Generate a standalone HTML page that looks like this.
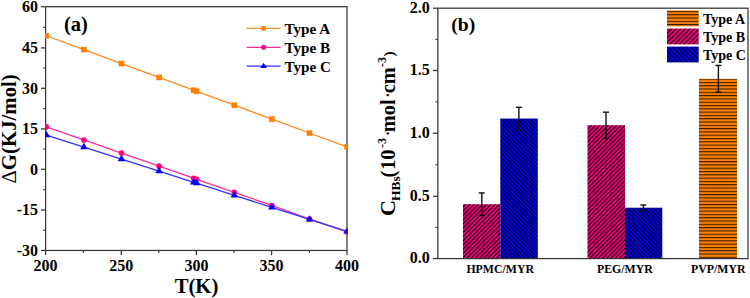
<!DOCTYPE html>
<html><head><meta charset="utf-8"><style>
html,body{margin:0;padding:0;background:#fff;}
body{width:750px;height:298px;overflow:hidden;font-family:"Liberation Serif",serif;}
svg{display:block;}
</style></head><body>
<svg width="750" height="298" viewBox="0 0 750 298">
<defs>
<pattern id="pk" patternUnits="userSpaceOnUse" x="0" y="0" width="4.24" height="4.24"><rect width="4.24" height="4.24" fill="#ff0080"/><path d="M-4.24,4.24 L4.24,-4.24 M0,8.48 L8.48,0 M-4.24,8.48 L8.48,-4.24" stroke="#000" stroke-width="1.1" fill="none"/></pattern>
<pattern id="bl" patternUnits="userSpaceOnUse" x="0" y="0" width="4.24" height="4.24"><rect width="4.24" height="4.24" fill="#0000ff"/><path d="M-4.24,0 L4.24,8.48 M0,-4.24 L8.48,4.24 M-4.24,-4.24 L8.48,8.48" stroke="#000" stroke-width="1.15" fill="none"/></pattern>
<pattern id="pkl" patternUnits="userSpaceOnUse" x="667.5" y="28.3" width="4.6" height="4.6"><rect width="4.6" height="4.6" fill="#ff0080"/><path d="M-4.6,4.6 L4.6,-4.6 M0,9.2 L9.2,0 M-4.6,9.2 L9.2,-4.6" stroke="#000" stroke-width="1.15" fill="none"/></pattern>
<pattern id="bll" patternUnits="userSpaceOnUse" x="667.5" y="46.6" width="4.6" height="4.6"><rect width="4.6" height="4.6" fill="#0000ff"/><path d="M-4.6,0 L4.6,9.2 M0,-4.6 L9.2,4.6 M-4.6,-4.6 L9.2,9.2" stroke="#000" stroke-width="1.15" fill="none"/></pattern>
<pattern id="or" patternUnits="userSpaceOnUse" x="0" y="78.6" width="10" height="3.3"><rect width="10" height="3.3" fill="#ff8000"/><rect y="0" width="10" height="1.1" fill="#3a1d00"/></pattern>
<pattern id="orl" patternUnits="userSpaceOnUse" x="0" y="10.9" width="10" height="3.3"><rect width="10" height="3.3" fill="#ff8000"/><rect y="0" width="10" height="1.1" fill="#3a1d00"/></pattern>
</defs>
<rect width="750" height="298" fill="#fff"/>
<rect x="45.60" y="6.70" width="301.40" height="243.75" fill="none" stroke="#353535" stroke-width="1.25"/>
<clipPath id="clipa"><rect x="45.00" y="0" width="302.60" height="298"/></clipPath><g clip-path="url(#clipa)">
<polyline points="46.30,35.76 83.90,49.65 121.50,63.55 159.10,77.44 193.69,90.22 196.70,91.33 234.30,105.22 271.90,119.11 309.50,133.01 347.10,146.90" fill="none" stroke="#ff8a1c" stroke-width="1.3"/>
<polyline points="46.30,126.87 83.90,139.97 121.50,153.07 159.10,166.17 193.69,178.22 196.70,179.27 234.30,192.37 271.90,205.47 309.50,219.14 347.10,231.99" fill="none" stroke="#ff2b93" stroke-width="1.3"/>
<polyline points="46.30,135.01 83.90,147.07 121.50,159.12 159.10,171.18 193.69,182.27 196.70,183.23 234.30,195.29 271.90,207.34 309.50,219.40 347.10,231.45" fill="none" stroke="#3030ff" stroke-width="1.3"/>
<rect x="43.50" y="32.96" width="5.6" height="5.6" fill="#ff8000"/>
<rect x="81.10" y="46.85" width="5.6" height="5.6" fill="#ff8000"/>
<rect x="118.70" y="60.75" width="5.6" height="5.6" fill="#ff8000"/>
<rect x="156.30" y="74.64" width="5.6" height="5.6" fill="#ff8000"/>
<rect x="190.89" y="87.42" width="5.6" height="5.6" fill="#ff8000"/>
<rect x="193.90" y="88.53" width="5.6" height="5.6" fill="#ff8000"/>
<rect x="231.50" y="102.42" width="5.6" height="5.6" fill="#ff8000"/>
<rect x="269.10" y="116.31" width="5.6" height="5.6" fill="#ff8000"/>
<rect x="306.70" y="130.21" width="5.6" height="5.6" fill="#ff8000"/>
<rect x="344.30" y="144.10" width="5.6" height="5.6" fill="#ff8000"/>
<circle cx="46.30" cy="126.87" r="2.8" fill="#ff0080"/>
<circle cx="83.90" cy="139.97" r="2.8" fill="#ff0080"/>
<circle cx="121.50" cy="153.07" r="2.8" fill="#ff0080"/>
<circle cx="159.10" cy="166.17" r="2.8" fill="#ff0080"/>
<circle cx="193.69" cy="178.22" r="2.8" fill="#ff0080"/>
<circle cx="196.70" cy="179.27" r="2.8" fill="#ff0080"/>
<circle cx="234.30" cy="192.37" r="2.8" fill="#ff0080"/>
<circle cx="271.90" cy="205.47" r="2.8" fill="#ff0080"/>
<circle cx="309.50" cy="219.14" r="2.8" fill="#ff0080"/>
<circle cx="347.10" cy="231.99" r="2.8" fill="#ff0080"/>
<polygon points="46.30,130.75 50.10,137.15 42.50,137.15" fill="#0000ff"/>
<polygon points="83.90,142.80 87.70,149.20 80.10,149.20" fill="#0000ff"/>
<polygon points="121.50,154.86 125.30,161.26 117.70,161.26" fill="#0000ff"/>
<polygon points="159.10,166.91 162.90,173.31 155.30,173.31" fill="#0000ff"/>
<polygon points="193.69,178.00 197.49,184.40 189.89,184.40" fill="#0000ff"/>
<polygon points="196.70,178.97 200.50,185.37 192.90,185.37" fill="#0000ff"/>
<polygon points="234.30,191.02 238.10,197.42 230.50,197.42" fill="#0000ff"/>
<polygon points="271.90,203.08 275.70,209.48 268.10,209.48" fill="#0000ff"/>
<polygon points="309.50,215.13 313.30,221.53 305.70,221.53" fill="#0000ff"/>
<polygon points="347.10,227.19 350.90,233.59 343.30,233.59" fill="#0000ff"/>
</g>
<line x1="41.00" y1="6.70" x2="45.60" y2="6.70" stroke="#353535" stroke-width="1.25"/>
<text x="38.00" y="12.00" text-anchor="end" font-family="Liberation Serif" font-weight="bold" font-size="16">60</text>
<line x1="41.00" y1="47.90" x2="45.60" y2="47.90" stroke="#353535" stroke-width="1.25"/>
<text x="38.00" y="53.20" text-anchor="end" font-family="Liberation Serif" font-weight="bold" font-size="16">45</text>
<line x1="41.00" y1="88.30" x2="45.60" y2="88.30" stroke="#353535" stroke-width="1.25"/>
<text x="38.00" y="93.60" text-anchor="end" font-family="Liberation Serif" font-weight="bold" font-size="16">30</text>
<line x1="41.00" y1="128.90" x2="45.60" y2="128.90" stroke="#353535" stroke-width="1.25"/>
<text x="38.00" y="134.20" text-anchor="end" font-family="Liberation Serif" font-weight="bold" font-size="16">15</text>
<line x1="41.00" y1="169.30" x2="45.60" y2="169.30" stroke="#353535" stroke-width="1.25"/>
<text x="38.00" y="174.60" text-anchor="end" font-family="Liberation Serif" font-weight="bold" font-size="16">0</text>
<line x1="41.00" y1="210.10" x2="45.60" y2="210.10" stroke="#353535" stroke-width="1.25"/>
<text x="38.00" y="215.40" text-anchor="end" font-family="Liberation Serif" font-weight="bold" font-size="16">-15</text>
<line x1="41.00" y1="250.45" x2="45.60" y2="250.45" stroke="#353535" stroke-width="1.25"/>
<text x="38.00" y="255.75" text-anchor="end" font-family="Liberation Serif" font-weight="bold" font-size="16">-30</text>
<line x1="43.20" y1="230.27" x2="45.60" y2="230.27" stroke="#353535" stroke-width="1.1"/>
<line x1="43.20" y1="189.70" x2="45.60" y2="189.70" stroke="#353535" stroke-width="1.1"/>
<line x1="43.20" y1="149.10" x2="45.60" y2="149.10" stroke="#353535" stroke-width="1.1"/>
<line x1="43.20" y1="108.60" x2="45.60" y2="108.60" stroke="#353535" stroke-width="1.1"/>
<line x1="43.20" y1="68.10" x2="45.60" y2="68.10" stroke="#353535" stroke-width="1.1"/>
<line x1="43.20" y1="27.30" x2="45.60" y2="27.30" stroke="#353535" stroke-width="1.1"/>
<line x1="45.60" y1="250.45" x2="45.60" y2="255.05" stroke="#353535" stroke-width="1.25"/>
<text x="45.60" y="271.25" text-anchor="middle" font-family="Liberation Serif" font-weight="bold" font-size="16">200</text>
<line x1="121.30" y1="250.45" x2="121.30" y2="255.05" stroke="#353535" stroke-width="1.25"/>
<text x="121.30" y="271.25" text-anchor="middle" font-family="Liberation Serif" font-weight="bold" font-size="16">250</text>
<line x1="196.40" y1="250.45" x2="196.40" y2="255.05" stroke="#353535" stroke-width="1.25"/>
<text x="196.40" y="271.25" text-anchor="middle" font-family="Liberation Serif" font-weight="bold" font-size="16">300</text>
<line x1="271.60" y1="250.45" x2="271.60" y2="255.05" stroke="#353535" stroke-width="1.25"/>
<text x="271.60" y="271.25" text-anchor="middle" font-family="Liberation Serif" font-weight="bold" font-size="16">350</text>
<line x1="347.00" y1="250.45" x2="347.00" y2="255.05" stroke="#353535" stroke-width="1.25"/>
<text x="347.00" y="271.25" text-anchor="middle" font-family="Liberation Serif" font-weight="bold" font-size="16">400</text>
<line x1="83.30" y1="250.45" x2="83.30" y2="252.95" stroke="#353535" stroke-width="1.1"/>
<line x1="158.80" y1="250.45" x2="158.80" y2="252.95" stroke="#353535" stroke-width="1.1"/>
<line x1="234.00" y1="250.45" x2="234.00" y2="252.95" stroke="#353535" stroke-width="1.1"/>
<line x1="309.40" y1="250.45" x2="309.40" y2="252.95" stroke="#353535" stroke-width="1.1"/>
<text x="196.5" y="292.9" text-anchor="middle" font-family="Liberation Serif" font-weight="bold" font-size="20.7">T(K)</text>
<text transform="translate(16,128.9) rotate(-90)" text-anchor="middle" font-family="Liberation Serif" font-weight="bold" font-size="20.8"><tspan font-weight="normal">&#916;</tspan>G(KJ/mol)</text>
<text x="64" y="31.2" font-family="Liberation Serif" font-weight="bold" font-size="20.5">(a)</text>
<line x1="246.6" y1="28.40" x2="280.6" y2="28.40" stroke="#ff8a1c" stroke-width="1.2"/>
<rect x="261.3" y="26.10" width="4.6" height="4.6" fill="#ff8000"/>
<text x="284.4" y="34.40" font-family="Liberation Serif" font-weight="bold" font-size="15.2">Type A</text>
<line x1="246.6" y1="47.30" x2="280.6" y2="47.30" stroke="#ff2b93" stroke-width="1.2"/>
<circle cx="263.6" cy="47.30" r="2.5" fill="#ff0080"/>
<text x="284.4" y="53.30" font-family="Liberation Serif" font-weight="bold" font-size="15.2">Type B</text>
<line x1="246.6" y1="66.20" x2="280.6" y2="66.20" stroke="#3030ff" stroke-width="1.2"/>
<polygon points="263.6,62.67 266.90000000000003,67.97 260.3,67.97" fill="#0000ff"/>
<text x="284.4" y="72.20" font-family="Liberation Serif" font-weight="bold" font-size="15.2">Type C</text>
<rect x="463.0" y="204.22" width="37.30" height="54.48" fill="url(#pk)"/>
<rect x="500.3" y="118.55" width="37.50" height="140.15" fill="url(#bl)"/>
<rect x="587.5" y="125.18" width="37.50" height="133.52" fill="url(#pk)"/>
<rect x="625.0" y="207.72" width="37.30" height="50.98" fill="url(#bl)"/>
<rect x="699.0" y="78.84" width="38.00" height="179.86" fill="url(#or)"/>
<line x1="481.8" y1="192.94" x2="481.8" y2="215.49" stroke="#111" stroke-width="1.4"/><line x1="478.8" y1="192.94" x2="484.8" y2="192.94" stroke="#111" stroke-width="1.4"/><line x1="478.8" y1="215.49" x2="484.8" y2="215.49" stroke="#111" stroke-width="1.4"/>
<line x1="518.9" y1="107.27" x2="518.9" y2="129.82" stroke="#111" stroke-width="1.4"/><line x1="515.9" y1="107.27" x2="521.9" y2="107.27" stroke="#111" stroke-width="1.4"/><line x1="515.9" y1="129.82" x2="521.9" y2="129.82" stroke="#111" stroke-width="1.4"/>
<line x1="606.0" y1="112.16" x2="606.0" y2="138.21" stroke="#111" stroke-width="1.4"/><line x1="603.0" y1="112.16" x2="609.0" y2="112.16" stroke="#111" stroke-width="1.4"/><line x1="603.0" y1="138.21" x2="609.0" y2="138.21" stroke="#111" stroke-width="1.4"/>
<line x1="643.4" y1="204.97" x2="643.4" y2="210.48" stroke="#111" stroke-width="1.4"/><line x1="640.4" y1="204.97" x2="646.4" y2="204.97" stroke="#111" stroke-width="1.4"/><line x1="640.4" y1="210.48" x2="646.4" y2="210.48" stroke="#111" stroke-width="1.4"/>
<line x1="718.4" y1="65.44" x2="718.4" y2="92.24" stroke="#111" stroke-width="1.4"/><line x1="715.4" y1="65.44" x2="721.4" y2="65.44" stroke="#111" stroke-width="1.4"/><line x1="715.4" y1="92.24" x2="721.4" y2="92.24" stroke="#111" stroke-width="1.4"/>
<rect x="437.85" y="8.20" width="310.15" height="250.40" fill="none" stroke="#353535" stroke-width="1.25"/>
<line x1="432.95" y1="258.60" x2="437.85" y2="258.60" stroke="#353535" stroke-width="1.25"/>
<text x="429.85" y="263.00" text-anchor="end" font-family="Liberation Serif" font-weight="bold" font-size="16">0.0</text>
<line x1="432.95" y1="196.30" x2="437.85" y2="196.30" stroke="#353535" stroke-width="1.25"/>
<text x="429.85" y="200.70" text-anchor="end" font-family="Liberation Serif" font-weight="bold" font-size="16">0.5</text>
<line x1="432.95" y1="133.20" x2="437.85" y2="133.20" stroke="#353535" stroke-width="1.25"/>
<text x="429.85" y="137.60" text-anchor="end" font-family="Liberation Serif" font-weight="bold" font-size="16">1.0</text>
<line x1="432.95" y1="70.50" x2="437.85" y2="70.50" stroke="#353535" stroke-width="1.25"/>
<text x="429.85" y="74.90" text-anchor="end" font-family="Liberation Serif" font-weight="bold" font-size="16">1.5</text>
<line x1="432.95" y1="8.20" x2="437.85" y2="8.20" stroke="#353535" stroke-width="1.25"/>
<text x="429.85" y="12.60" text-anchor="end" font-family="Liberation Serif" font-weight="bold" font-size="16">2.0</text>
<line x1="435.45" y1="227.45" x2="437.85" y2="227.45" stroke="#353535" stroke-width="1.1"/>
<line x1="435.45" y1="164.75" x2="437.85" y2="164.75" stroke="#353535" stroke-width="1.1"/>
<line x1="435.45" y1="101.85" x2="437.85" y2="101.85" stroke="#353535" stroke-width="1.1"/>
<line x1="435.45" y1="39.35" x2="437.85" y2="39.35" stroke="#353535" stroke-width="1.1"/>
<text x="500.2" y="272.8" text-anchor="middle" font-family="Liberation Serif" font-weight="bold" font-size="11.8">HPMC/MYR</text>
<text x="624.9" y="272.8" text-anchor="middle" font-family="Liberation Serif" font-weight="bold" font-size="11.8">PEG/MYR</text>
<text x="718.3" y="272.8" text-anchor="middle" font-family="Liberation Serif" font-weight="bold" font-size="11.8">PVP/MYR</text>
<text x="451.3" y="30.5" font-family="Liberation Serif" font-weight="bold" font-size="19.6">(b)</text>
<text transform="translate(395.30,216.00) rotate(-90)" font-family="Liberation Serif" font-weight="bold" font-size="22">C</text>
<text transform="translate(399.90,201.00) rotate(-90)" font-family="Liberation Serif" font-weight="bold" font-size="13.5">HBs</text>
<text transform="translate(395.30,177.60) rotate(-90)" font-family="Liberation Serif" font-weight="bold" font-size="20.4">(</text>
<text transform="translate(395.30,170.00) rotate(-90)" font-family="Liberation Serif" font-weight="bold" font-size="20.4">10</text>
<text transform="translate(385.70,148.00) rotate(-90)" font-family="Liberation Serif" font-weight="bold" font-size="12">-3</text>
<text transform="translate(395.30,136.75) rotate(-90)" font-family="Liberation Serif" font-weight="normal" font-size="20.4">&#183;</text>
<text transform="translate(395.30,132.30) rotate(-90)" font-family="Liberation Serif" font-weight="bold" font-size="20.4">mol</text>
<text transform="translate(395.30,98.50) rotate(-90)" font-family="Liberation Serif" font-weight="normal" font-size="20.4">&#183;</text>
<text transform="translate(395.30,93.30) rotate(-90)" font-family="Liberation Serif" font-weight="bold" font-size="20.4">cm</text>
<text transform="translate(385.70,67.00) rotate(-90)" font-family="Liberation Serif" font-weight="bold" font-size="12">-3</text>
<text transform="translate(393.80,56.50) rotate(-90)" font-family="Liberation Serif" font-weight="bold" font-size="15.5">)</text>
<rect x="667" y="10.50" width="31.7" height="15.8" fill="url(#orl)"/>
<text x="703" y="23.50" font-family="Liberation Serif" font-weight="bold" font-size="14">Type A</text>
<rect x="667" y="28.55" width="31.7" height="15.8" fill="url(#pkl)"/>
<text x="703" y="41.55" font-family="Liberation Serif" font-weight="bold" font-size="14">Type B</text>
<rect x="667" y="46.60" width="31.7" height="15.8" fill="url(#bll)"/>
<text x="703" y="59.60" font-family="Liberation Serif" font-weight="bold" font-size="14">Type C</text>
</svg>
</body></html>
